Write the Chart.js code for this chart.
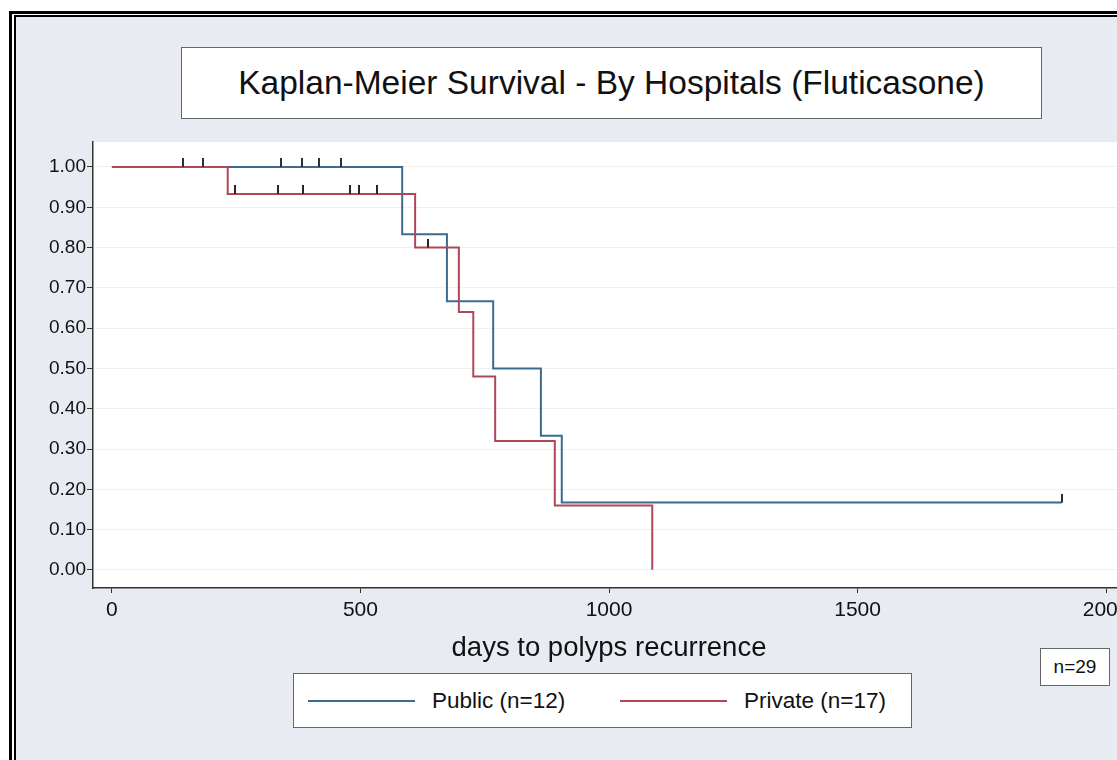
<!DOCTYPE html>
<html>
<head>
<meta charset="utf-8">
<script src="https://cdn.jsdelivr.net/npm/chart.js@4"></script>
<style>
  html, body { margin: 0; padding: 0; background: #fff; overflow: hidden; width: 1117px; height: 760px; }
  body { position: relative; font-family: "Liberation Sans", Arial, sans-serif; color: #111; }
  #frameOuter { position: absolute; left: 9px; top: 11px; width: 1200px; height: 800px; border-left: 3px solid #000; border-top: 3px solid #000; background: #fff; }
  #frameInner { position: absolute; left: 14px; top: 15px; width: 1200px; height: 800px; border-left: 2px solid #000; border-top: 2px solid #000; background: #e8ebf2; }
  #chartBox { position: absolute; left: 0; top: 0; width: 1160px; height: 760px; }
  .box { position: absolute; background: #fff; border: 1.5px solid #666; box-sizing: border-box; }
  #titleBox { left: 181px; top: 47px; width: 861px; height: 72px; font-size: 33.5px; display: flex; align-items: center; justify-content: center; }
  #legendBox { left: 293px; top: 673px; width: 619px; height: 55px; font-size: 22.5px; }
  .legItem { position: absolute; top: 0; height: 100%; display: flex; align-items: center; }
  .legLine { display: inline-block; width: 107px; height: 2px; margin-right: 17px; }
  #nBox { left: 1040px; top: 648px; width: 70px; height: 38px; font-size: 19px; display: flex; align-items: center; justify-content: center; }
</style>
</head>
<body>
<div id="frameOuter"></div>
<div id="frameInner"></div>
<div id="chartBox"><canvas id="kmChart"></canvas></div>
<div class="box" id="titleBox">Kaplan-Meier Survival - By Hospitals (Fluticasone)</div>
<div class="box" id="legendBox"></div>
<div class="box" id="nBox">n=29</div>
<script>
// Kaplan-Meier curves (days, survival)
const publicDays = [0, 584, 674, 767, 863, 905, 1911];
const publicSurv = [1.0, 0.833, 0.667, 0.5, 0.333, 0.167, 0.167];
const privateDays = [0, 233, 610, 698, 727, 771, 891, 1087, 1087];
const privateSurv = [1.0, 0.933, 0.8, 0.64, 0.48, 0.32, 0.16, 0.16, 0.0];

// censored observations (small ticks on the curves)
const publicCensDays = [143, 183, 340, 382, 417, 461, 1911];
const publicCensSurv = [1.0, 1.0, 1.0, 1.0, 1.0, 1.0, 0.167];
const privateCensDays = [248, 334, 384, 479, 497, 533, 636];
const privateCensSurv = [0.933, 0.933, 0.933, 0.933, 0.933, 0.933, 0.8];

const xTicks = [0, 500, 1000, 1500, 2000];
const yTicks = [0, 0.05, 0.1, 0.15, 0.2, 0.25, 0.3, 0.35, 0.4, 0.45, 0.5, 0.55, 0.6, 0.65, 0.7, 0.75, 0.8, 0.85, 0.9, 0.95, 1.0];

const groups = [
    { label: 'Public (n=12)', color: '#3d6b8f' },
    { label: 'Private (n=17)', color: '#b14659' }
];

const toPoints = (xs, ys) => xs.map((x, i) => ({ x: x, y: ys[i] }));
const isMajor = v => Math.round(v * 100) % 10 === 0;

// little upward tick used as the point style for censored cases
const makeTick = (color) => {
    const c = document.createElement('canvas');
    c.width = 2;
    c.height = 18;
    const g = c.getContext('2d');
    g.fillStyle = color;
    g.fillRect(0, 0, 2, 9);
    return c;
};

// white plot region like Stata's
const plotBackground = {
    id: 'plotBackground',
    beforeDraw(chart) {
        const a = chart.chartArea;
        const ctx = chart.ctx;
        ctx.save();
        ctx.fillStyle = '#ffffff';
        ctx.fillRect(a.left, a.top, a.right - a.left, a.bottom - a.top);
        ctx.restore();
    }
};

Chart.defaults.font.family = '"Liberation Sans", Arial, sans-serif';
Chart.defaults.color = '#111';

const ctx = document.getElementById('kmChart').getContext('2d');
const kmChart = new Chart(ctx, {
    type: 'line',
    data: {
        datasets: [
            {
                label: groups[0].label,
                data: toPoints(publicDays, publicSurv),
                borderColor: groups[0].color,
                borderWidth: 2,
                stepped: true,
                pointRadius: 0,
                fill: false,
                order: 2
            },
            {
                label: groups[1].label,
                data: toPoints(privateDays, privateSurv),
                borderColor: groups[1].color,
                borderWidth: 2,
                stepped: true,
                pointRadius: 0,
                fill: false,
                order: 1
            },
            {
                label: 'censored public',
                data: toPoints(publicCensDays, publicCensSurv),
                showLine: false,
                pointStyle: makeTick('#23303f'),
                order: 0
            },
            {
                label: 'censored private',
                data: toPoints(privateCensDays, privateCensSurv),
                showLine: false,
                pointStyle: makeTick('#2e2428'),
                order: 0
            }
        ]
    },
    options: {
        responsive: true,
        maintainAspectRatio: false,
        animation: false,
        layout: { padding: { left: 0, top: 142, right: 35, bottom: 95 } },
        plugins: {
            legend: { display: false },
            tooltip: { enabled: false }
        },
        scales: {
            x: {
                type: 'linear',
                min: -38,
                max: 2038,
                afterBuildTicks: axis => { axis.ticks = xTicks.map(v => ({ value: v })); },
                afterFit: axis => { axis.height = 77; },
                ticks: { font: { size: 21 }, padding: 5, maxRotation: 0, callback: v => String(v) },
                grid: { drawOnChartArea: false, tickLength: 5, tickColor: '#333' },
                border: { display: true, color: '#333', width: 1.5 },
                title: {
                    display: true,
                    text: 'days to polyps recurrence',
                    font: { size: 27.5 },
                    padding: 0
                }
            },
            y: {
                type: 'linear',
                min: -0.045,
                max: 1.062,
                afterBuildTicks: axis => { axis.ticks = yTicks.map(v => ({ value: v })); },
                afterFit: axis => { axis.width = 93; },
                ticks: {
                    font: { size: 19 },
                    padding: 1,
                    callback: v => isMajor(v) ? v.toFixed(2) : ''
                },
                grid: {
                    tickLength: 6,
                    tickColor: '#333',
                    color: c => (c.tick && isMajor(c.tick.value)) ? 'rgba(120,130,150,0.12)' : 'rgba(0,0,0,0)'
                },
                border: { display: true, color: '#333', width: 1.5 }
            }
        }
    },
    plugins: [plotBackground]
});

// legend drawn as a Stata-style box below the plot
const legendBox = document.getElementById('legendBox');
const legendLefts = [14, 326];
groups.forEach((g, i) => {
    const item = document.createElement('div');
    item.className = 'legItem';
    item.style.left = legendLefts[i] + 'px';
    const line = document.createElement('span');
    line.className = 'legLine';
    line.style.background = g.color;
    const text = document.createElement('span');
    text.textContent = g.label;
    item.appendChild(line);
    item.appendChild(text);
    legendBox.appendChild(item);
});
</script>
</body>
</html>
